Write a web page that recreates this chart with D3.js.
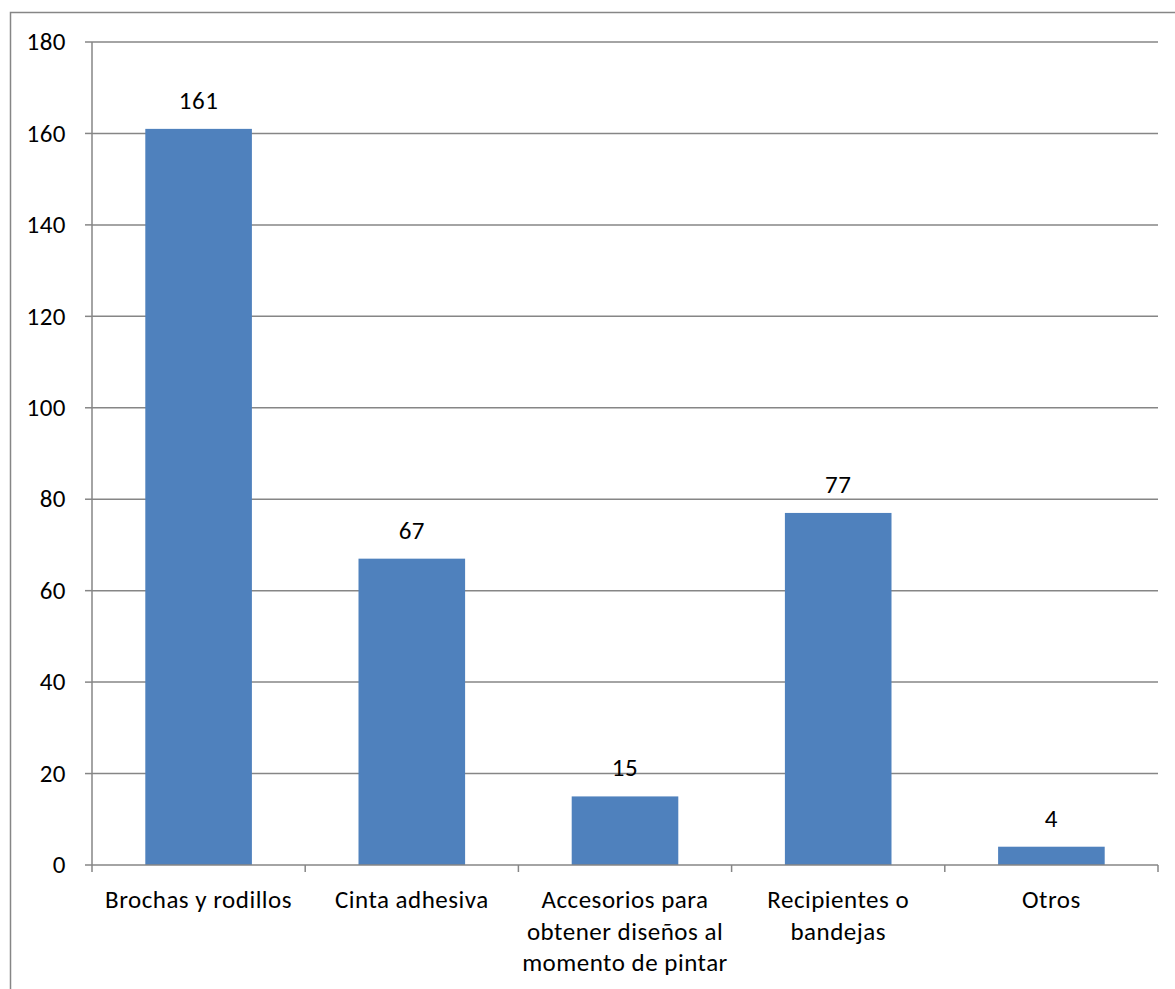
<!DOCTYPE html>
<html>
<head>
<meta charset="utf-8">
<script src="https://cdn.jsdelivr.net/npm/d3@7"></script>
<style>
  body { margin: 0; background: #fff; }
  text { font-family: Carlito, Calibri, "Open Sans", sans-serif; fill: #000; letter-spacing: 0.5px; }
</style>
</head>
<body>
<svg id="chart" width="1175" height="989"></svg>
<script>
const categories = [
  ["Brochas y rodillos"],
  ["Cinta adhesiva"],
  ["Accesorios para", "obtener diseños al", "momento de pintar"],
  ["Recipientes o", "bandejas"],
  ["Otros"]
];
const values = [161, 67, 15, 77, 4];
const yTicks = [0, 20, 40, 60, 80, 100, 120, 140, 160, 180];

const svg = d3.select("#chart");
const plotLeft = 92, plotRight = 1158, plotTop = 42, plotBottom = 865;
const fontsize = 25;

// outer chart border
svg.append("rect")
  .attr("x", 10.5).attr("y", 12.5)
  .attr("width", 1180).attr("height", 1000)
  .attr("fill", "none")
  .attr("stroke", "#868686")
  .attr("stroke-width", 1.5);

const x = d3.scaleBand()
  .domain(d3.range(values.length))
  .range([plotLeft, plotRight])
  .paddingInner(0.5)
  .paddingOuter(0.25);

const y = d3.scaleLinear().domain([0, 180]).range([plotBottom, plotTop]);

// gridlines
svg.append("g")
  .selectAll("line")
  .data(yTicks.filter(d => d > 0))
  .join("line")
  .attr("x1", plotLeft).attr("x2", plotRight)
  .attr("y1", d => y(d)).attr("y2", d => y(d))
  .attr("stroke", "#868686")
  .attr("stroke-width", 1.5);

// y axis
svg.append("line")
  .attr("x1", plotLeft).attr("x2", plotLeft)
  .attr("y1", plotTop).attr("y2", plotBottom)
  .attr("stroke", "#868686").attr("stroke-width", 1.5);

svg.append("g")
  .selectAll("line")
  .data(yTicks)
  .join("line")
  .attr("x1", plotLeft - 7).attr("x2", plotLeft)
  .attr("y1", d => y(d)).attr("y2", d => y(d))
  .attr("stroke", "#868686").attr("stroke-width", 1.5);

svg.append("g")
  .selectAll("text")
  .data(yTicks)
  .join("text")
  .attr("x", 66)
  .attr("y", d => y(d))
  .attr("dy", "0.33em")
  .attr("text-anchor", "end")
  .attr("font-size", fontsize)
  .text(d => d);

// bars
svg.append("g")
  .selectAll("rect")
  .data(values)
  .join("rect")
  .attr("x", (d, i) => x(i))
  .attr("width", x.bandwidth())
  .attr("y", d => y(d))
  .attr("height", d => plotBottom - y(d))
  .attr("fill", "#4F81BD");

// data labels
svg.append("g")
  .selectAll("text")
  .data(values)
  .join("text")
  .attr("x", (d, i) => x(i) + x.bandwidth() / 2)
  .attr("y", d => y(d) - 20)
  .attr("text-anchor", "middle")
  .attr("font-size", fontsize)
  .text(d => d);

// x axis
svg.append("line")
  .attr("x1", plotLeft).attr("x2", plotRight)
  .attr("y1", plotBottom).attr("y2", plotBottom)
  .attr("stroke", "#868686").attr("stroke-width", 1.5);

const step = (plotRight - plotLeft) / values.length;
svg.append("g")
  .selectAll("line")
  .data(d3.range(values.length + 1))
  .join("line")
  .attr("x1", i => plotLeft + i * step).attr("x2", i => plotLeft + i * step)
  .attr("y1", plotBottom).attr("y2", plotBottom + 7)
  .attr("stroke", "#868686").attr("stroke-width", 1.5);

// category labels
const cat = svg.append("g")
  .selectAll("text")
  .data(categories)
  .join("text")
  .attr("text-anchor", "middle")
  .attr("font-size", fontsize)
  .attr("x", (d, i) => x(i) + x.bandwidth() / 2)
  .attr("y", 908);
cat.selectAll("tspan")
  .data(d => d)
  .join("tspan")
  .attr("x", function () { return this.parentNode.getAttribute("x"); })
  .attr("dy", (d, i) => i === 0 ? 0 : 31.5)
  .text(d => d);
</script>
</body>
</html>
